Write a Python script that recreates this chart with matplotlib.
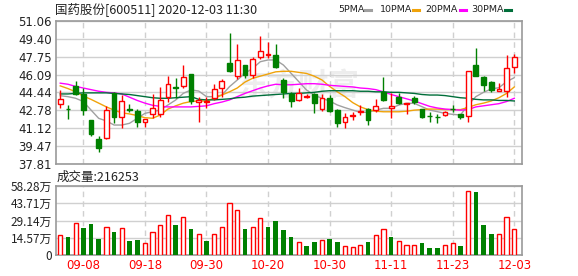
import matplotlib
matplotlib.use("Agg")
import matplotlib.pyplot as plt
import numpy as np

plt.rcParams['font.family'] = ['DejaVu Sans', 'Noto Sans CJK SC']

# daily candles, 2020-09-03 .. 2020-12-03
opens = [43.34, 42.90, 45.00, 44.27, 41.89, 40.13, 40.19, 44.42,
         42.13, 42.90, 42.75, 41.67, 42.47, 42.44, 44.05, 44.90,
         45.01, 46.15, 43.52, 43.58, 43.89, 44.88, 47.14, 45.99,
         46.98, 46.06, 47.69, 47.92, 47.91, 45.59, 44.27, 43.71,
         44.05, 44.27, 42.91, 43.89, 42.81, 41.67, 42.30, 42.63,
         42.88, 42.81, 44.51, 42.97, 44.05, 43.34, 43.89, 42.91,
         42.28, 42.19, 42.35, 42.93, 42.41, 42.23, 46.98, 45.87,
         45.38, 44.61, 44.57, 46.77]
closes = [43.83, 42.86, 44.27, 42.84, 40.56, 39.26, 42.81, 42.13,
          43.68, 42.85, 41.73, 41.95, 42.97, 43.74, 45.19, 44.86,
          45.87, 43.65, 43.77, 43.62, 44.76, 45.50, 46.43, 47.45,
          46.06, 47.54, 48.28, 47.96, 46.77, 44.51, 43.68, 44.42,
          44.10, 43.49, 43.96, 42.72, 41.64, 42.17, 42.36, 42.68,
          41.89, 43.22, 43.74, 43.19, 43.43, 43.43, 43.52, 42.20,
          42.24, 42.15, 42.66, 42.89, 42.20, 46.43, 45.99, 45.13,
          44.67, 44.76, 46.67, 47.69]
highs = [44.67, 43.28, 45.50, 44.82, 41.90, 40.44, 43.18, 44.50,
         44.20, 43.34, 42.88, 41.95, 44.27, 44.98, 45.96, 45.81,
         46.98, 46.15, 44.05, 44.05, 45.19, 45.66, 49.98, 48.90,
         46.98, 47.76, 49.67, 49.15, 48.90, 45.75, 44.51, 44.88,
         44.33, 44.36, 44.27, 44.20, 42.91, 42.50, 42.60, 43.28,
         43.03, 43.83, 45.90, 44.36, 44.36, 43.46, 44.11, 42.95,
         42.66, 42.41, 42.72, 43.28, 42.41, 46.43, 48.59, 45.99,
         45.50, 45.28, 47.91, 48.00]
lows = [43.03, 41.95, 44.20, 42.35, 40.44, 38.89, 40.10, 41.58,
        41.12, 42.66, 41.27, 41.27, 42.04, 42.20, 43.59, 43.90,
        44.88, 43.34, 41.67, 42.97, 43.71, 44.05, 46.30, 45.69,
        45.75, 45.81, 47.51, 47.66, 46.67, 43.96, 43.12, 43.65,
        43.90, 42.57, 42.72, 42.66, 41.27, 41.18, 41.86, 42.35,
        41.42, 42.66, 43.65, 42.10, 43.34, 42.44, 43.34, 42.10,
        41.67, 41.58, 42.23, 42.66, 41.95, 41.67, 45.99, 44.57,
        44.45, 44.61, 44.05, 46.21]

ma5 = [44.14, 44.05, 43.90, 43.60, 42.81, 42.04, 41.80, 41.42,
       41.42, 41.58, 42.04, 42.50, 42.66, 42.81, 43.28, 43.74,
       44.36, 44.67, 44.57, 44.05, 44.05, 44.20, 44.98, 45.59,
       46.21, 46.67, 47.29, 47.45, 47.45, 46.98, 46.21, 45.44,
       44.67, 44.20, 43.89, 43.65, 43.28, 43.03, 42.81, 42.60,
       42.60, 42.81, 42.97, 42.97, 43.28, 43.43, 43.43, 43.12,
       42.81, 42.66, 42.50, 42.41, 42.35, 43.28, 44.05, 44.45,
       44.76, 44.88, 45.44, 45.81]
ma10 = [45.05, 44.80, 44.50, 44.10, 43.80, 43.45, 43.10, 42.80,
        42.55, 42.45, 42.30, 42.10, 42.05, 42.35, 42.90, 43.20,
        43.45, 43.60, 43.65, 43.65, 43.90, 44.20, 44.50, 44.85,
        45.40, 45.75, 45.95, 46.15, 46.35, 46.40, 46.40, 46.30,
        46.20, 45.95, 45.60, 45.00, 44.50, 44.05, 43.50, 43.10,
        42.85, 42.70, 42.65, 42.65, 42.65, 42.70, 42.80, 42.85,
        42.90, 42.90, 42.85, 42.85, 42.85, 43.05, 43.30, 43.45,
        43.65, 43.95, 44.35, 44.95]
ma20 = [45.30, 45.20, 45.00, 44.85, 44.70, 44.55, 44.45, 44.40,
        44.30, 44.00, 43.70, 43.45, 43.25, 43.15, 43.10, 43.10,
        43.10, 43.10, 43.15, 43.20, 43.40, 43.55, 43.75, 44.05,
        44.35, 44.60, 44.85, 45.05, 45.20, 45.15, 45.15, 45.20,
        45.25, 45.25, 45.20, 45.10, 45.05, 45.00, 44.95, 44.85,
        44.80, 44.70, 44.50, 44.25, 44.05, 43.85, 43.65, 43.40,
        43.15, 43.00, 42.90, 42.85, 42.80, 42.85, 43.10, 43.20,
        43.30, 43.40, 43.60, 43.90]
ma30 = [44.30, 44.30, 44.35, 44.40, 44.40, 44.40, 44.40, 44.35,
        44.30, 44.25, 44.15, 44.05, 43.95, 43.90, 43.90, 43.95,
        44.00, 44.05, 43.80, 43.75, 43.75, 43.80, 43.85, 43.95,
        44.00, 44.10, 44.15, 44.20, 44.25, 44.30, 44.35, 44.35,
        44.40, 44.45, 44.55, 44.60, 44.60, 44.60, 44.60, 44.55,
        44.55, 44.50, 44.50, 44.45, 44.45, 44.40, 44.35, 44.25,
        44.20, 44.20, 44.15, 44.05, 43.95, 43.90, 43.80, 43.75,
        43.75, 43.70, 43.70, 43.65]

# volume in 万 shares, and whether the day closed above the previous close
volume = [16.7, 15.3, 26.9, 22.9, 26.3, 13.6, 23.5, 19.5, 22.6, 11.9,
          12.7, 9.9, 19.2, 25.2, 33.7, 25.5, 32.0, 22.1, 17.5, 11.9,
          17.5, 23.5, 43.9, 37.9, 22.1, 23.5, 31.1, 23.8, 28.9, 21.2,
          15.3, 11.0, 7.6, 11.0, 12.4, 13.6, 11.0, 7.4, 6.5, 8.5,
          11.0, 16.7, 21.8, 15.3, 11.6, 8.2, 8.2, 10.2, 5.9, 5.9,
          8.2, 9.9, 7.4, 53.8, 53.2, 25.5, 17.8, 17.5, 32.0, 21.63]
vol_up = [1, 0, 1, 0, 0, 0, 1, 0, 1, 0, 0, 1, 1, 1, 1, 0, 1, 0, 1, 0,
          1, 1, 1, 1, 0, 1, 1, 0, 0, 0, 0, 1, 0, 0, 1, 0, 0, 1, 1, 1,
          0, 1, 1, 0, 1, 1, 1, 0, 0, 0, 1, 1, 0, 1, 0, 0, 0, 1, 1, 1]

date_ticks = [3, 11, 19, 27, 35, 43, 51, 59]
date_labels = ['09-08', '09-18', '09-30', '10-20', '10-30', '11-11', '11-23', '12-03']
price_ticks = [37.81, 39.47, 41.12, 42.78, 44.44, 46.09, 47.75, 49.40, 51.06]
vol_ticks = [0, 14.57, 29.14, 43.71, 58.28]

ma_names = ['5PMA', '10PMA', '20PMA', '30PMA']
ma_colors = ['#a0a0a0', '#f0a30a', '#ff00ff', '#006e3a']

RED = '#ff0000'
GREEN = '#008000'
FRAME = '#9a9a9a'
GRID = '#d0d0d0'
cjk = ['Noto Sans CJK SC', 'DejaVu Sans']

fig = plt.figure(figsize=(5.78, 2.76), dpi=100)
ax = fig.add_axes([56 / 578, 1 - 164 / 276, 466 / 578, 143 / 276])
axv = fig.add_axes([56 / 578, 1 - 255 / 276, 466 / 578, 69 / 276])

x = np.arange(len(opens))
o = np.array(opens)
c = np.array(closes)
up = c >= o

# price panel
ax.text(0.52, 0.55, '东方财富', transform=ax.transAxes, ha='center', va='center',
        fontsize=22, fontweight='bold', color='#ededed', family=cjk, zorder=0)
for xi, col in [(x[up], RED), (x[~up], GREEN)]:
    ax.vlines(xi, np.array(lows)[xi], np.array(highs)[xi], color=col, lw=1, zorder=3)
body_lo = np.minimum(o, c)
body_h = np.maximum(np.abs(c - o), 0.02)
ax.bar(x[up], body_h[up], bottom=body_lo[up], width=0.62, facecolor='white',
       edgecolor=RED, linewidth=1, zorder=4)
ax.bar(x[~up], body_h[~up], bottom=body_lo[~up], width=0.62, facecolor=GREEN,
       edgecolor=GREEN, linewidth=1, zorder=4)

for series, col in zip([ma5, ma10, ma20, ma30], ma_colors):
    ax.plot(x, series, color=col, lw=1, zorder=2)

ax.set_xlim(-0.55, 60.0)
ax.set_ylim(price_ticks[0], price_ticks[-1])
ax.set_yticks(price_ticks)
ax.set_yticklabels(['%.2f' % v for v in price_ticks], fontsize=8.5, color='#222222')
ax.set_xticks(date_ticks)
ax.set_xticklabels([])
ax.tick_params(length=0, pad=3)
ax.grid(axis='y', color=GRID, lw=1, ls='-')
ax.grid(axis='x', color=GRID, lw=1, ls=(0, (4, 3)))
ax.set_axisbelow(True)
for s in ax.spines.values():
    s.set_color(FRAME)
    s.set_linewidth(1.2)

# volume panel
vu = np.array(vol_up, dtype=bool)
vv = np.array(volume)
axv.bar(x[vu], vv[vu], width=0.55, facecolor='white', edgecolor=RED, linewidth=1, zorder=3)
axv.bar(x[~vu], vv[~vu], width=0.6, color=GREEN, zorder=3)
axv.set_xlim(-0.55, 60.0)
axv.set_ylim(vol_ticks[0], vol_ticks[-1])
axv.set_yticks(vol_ticks)
axv.set_yticklabels(['0'] + ['%.2f万' % v for v in vol_ticks[1:]], fontsize=8.5,
                    color='#222222', family=cjk)
axv.set_xticks(date_ticks)
axv.set_xticklabels(date_labels, fontsize=8.5, color=RED)
axv.tick_params(length=0, pad=3)
axv.grid(axis='y', color=GRID, lw=1, ls='-')
axv.grid(axis='x', color=GRID, lw=1, ls=(0, (4, 3)))
axv.set_axisbelow(True)
for s in axv.spines.values():
    s.set_color(FRAME)
    s.set_linewidth(1.2)

# header texts
fig.text(55 / 578, 1 - 9 / 276, '国药股份[600511] 2020-12-03 11:30', fontsize=9,
         family=cjk, color='#222222', va='center', ha='left')
fig.text(57 / 578, 1 - 177 / 276, '成交量:216253', fontsize=9,
         family=cjk, color='#222222', va='center', ha='left')

# legend: label text then a short coloured dash
label_x = [338, 380, 425, 471]
dash_x = [365, 413, 460, 505]
for name, col, lx, dx in zip(ma_names, ma_colors, label_x, dash_x):
    fig.text(lx / 578, 1 - 9 / 276, name, fontsize=6.8, color='#222222',
             va='center', ha='left')
    fig.add_artist(plt.Line2D([dx / 578, (dx + 6) / 578],
                              [1 - 9.5 / 276, 1 - 9.5 / 276], color=col, lw=2.2))

fig.savefig('out.png', dpi=100)
